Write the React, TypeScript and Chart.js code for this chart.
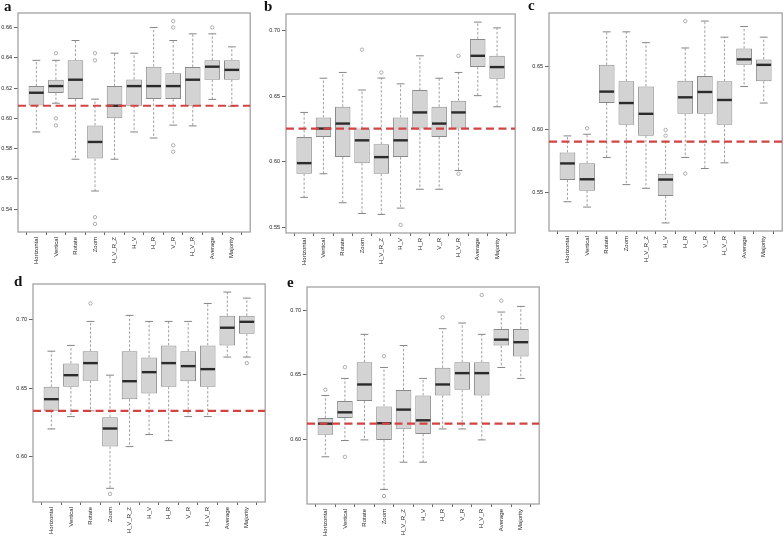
import React, { useEffect, useRef } from "react";
import { Chart, registerables } from "chart.js";

Chart.register(...registerables);

// ---------------- DATA ----------------
const CATEGORIES = ["Horizontal", "Vertical", "Rotate", "Zoom", "H_V_R_Z", "H_V", "H_R", "V_R", "H_V_R", "Average", "Majority"];

// Panel a
const A_LOW = [0.591, 0.610, 0.573, 0.552, 0.573, 0.591, 0.587, 0.5955, 0.595, 0.6125, 0.608];
const A_Q1 = [0.6085, 0.6167, 0.6127, 0.5734, 0.600, 0.6083, 0.6127, 0.6127, 0.6083, 0.6255, 0.6255];
const A_MED = [0.6169, 0.6213, 0.6255, 0.5844, 0.6083, 0.6213, 0.6213, 0.6213, 0.6255, 0.6341, 0.632];
const A_Q3 = [0.6213, 0.6255, 0.6383, 0.5953, 0.6213, 0.6257, 0.6341, 0.6297, 0.6339, 0.6383, 0.6383];
const A_HIGH = [0.6383, 0.6383, 0.6514, 0.6127, 0.643, 0.643, 0.66, 0.6514, 0.6558, 0.6558, 0.6472];
const A_OUT = [[], [0.643, 0.600, 0.5953], [], [0.643, 0.6383, 0.5347, 0.5303], [], [], [], [0.6642, 0.66, 0.5822, 0.578], [], [0.66], []];
const A_REF = 0.6083;
const A_TICKS = [0.54, 0.56, 0.58, 0.60, 0.62, 0.64, 0.66];

// Panel b
const B_LOW = [0.573, 0.591, 0.5689, 0.5607, 0.560, 0.5648, 0.5792, 0.5792, 0.5935, 0.6506, 0.6421];
const B_Q1 = [0.591, 0.6191, 0.6037, 0.5991, 0.591, 0.6037, 0.6255, 0.6191, 0.6255, 0.6724, 0.6634];
const B_MED = [0.5991, 0.6255, 0.6293, 0.6165, 0.6037, 0.6165, 0.6378, 0.6293, 0.6378, 0.681, 0.6724];
const B_Q3 = [0.6191, 0.634, 0.6421, 0.6255, 0.6135, 0.634, 0.6549, 0.6421, 0.6468, 0.6939, 0.681];
const B_HIGH = [0.6378, 0.6639, 0.6683, 0.6549, 0.664, 0.6596, 0.681, 0.6639, 0.6683, 0.7067, 0.7023];
const B_OUT = [[], [], [], [0.6857], [0.6683], [0.552], [], [], [0.681, 0.591], [], []];
const B_REF = 0.6255;
const B_TICKS = [0.55, 0.60, 0.65, 0.70];

// Panel c
const C_LOW = [0.5431, 0.5389, 0.578, 0.5566, 0.5537, 0.5264, 0.578, 0.5693, 0.5738, 0.6339, 0.6209];
const C_Q1 = [0.5603, 0.5518, 0.6209, 0.6037, 0.5952, 0.5476, 0.6124, 0.6124, 0.6037, 0.651, 0.6381];
const C_MED = [0.5733, 0.5608, 0.6299, 0.6209, 0.6124, 0.5606, 0.6254, 0.6296, 0.6233, 0.6553, 0.651];
const C_Q3 = [0.582, 0.5735, 0.651, 0.6381, 0.6339, 0.5651, 0.6384, 0.6423, 0.6381, 0.6638, 0.6553];
const C_HIGH = [0.595, 0.5963, 0.677, 0.677, 0.6685, 0.5905, 0.6643, 0.6855, 0.6728, 0.6812, 0.6728];
const C_OUT = [[], [0.601], [], [], [], [0.5997, 0.5952], [0.6855, 0.5653], [], [], [], []];
const C_REF = 0.5905;
const C_TICKS = [0.55, 0.60, 0.65];

// Panel d
const D_LOW = [0.6204, 0.6294, 0.6336, 0.5771, 0.6075, 0.6163, 0.6119, 0.6294, 0.6294, 0.6728, 0.6728];
const D_Q1 = [0.6336, 0.6511, 0.6555, 0.6075, 0.6421, 0.6462, 0.6511, 0.6552, 0.6511, 0.6813, 0.6898];
const D_MED = [0.6421, 0.6596, 0.6684, 0.6207, 0.6552, 0.6618, 0.6684, 0.6662, 0.664, 0.6942, 0.6985];
const D_Q3 = [0.6511, 0.6681, 0.6771, 0.629, 0.6771, 0.6725, 0.6813, 0.6771, 0.6813, 0.7029, 0.7029];
const D_HIGH = [0.6771, 0.6813, 0.6988, 0.6596, 0.7032, 0.6988, 0.6988, 0.6988, 0.7119, 0.7202, 0.7158];
const D_OUT = [[], [], [0.7119], [0.573], [], [], [], [], [], [], [0.6684]];
const D_REF = 0.6336;
const D_TICKS = [0.60, 0.65, 0.70];

// Panel e
const E_LOW = [0.5864, 0.599, 0.5995, 0.5611, 0.5822, 0.5822, 0.608, 0.608, 0.5995, 0.6557, 0.6472];
const E_Q1 = [0.6034, 0.6165, 0.6296, 0.5995, 0.6077, 0.6041, 0.634, 0.6384, 0.634, 0.6727, 0.6642];
const E_MED = [0.6121, 0.6209, 0.6425, 0.6124, 0.623, 0.6147, 0.6425, 0.6513, 0.6513, 0.6773, 0.6753];
const E_Q3 = [0.6165, 0.6296, 0.6598, 0.6255, 0.6382, 0.634, 0.6554, 0.6598, 0.6598, 0.6856, 0.6856];
const E_HIGH = [0.634, 0.6472, 0.6814, 0.6557, 0.6727, 0.6472, 0.6858, 0.6902, 0.6814, 0.6987, 0.7031];
const E_OUT = [[0.6384], [0.6559, 0.5864], [], [0.6644, 0.556], [], [], [0.6946], [], [0.7119], [0.7075], []];
const E_REF = 0.6121;
const E_TICKS = [0.60, 0.65, 0.70];

// ---------------- LAYOUT ----------------
type Frame = { l: number; t: number; r: number; b: number };
type PanelDef = {
  letter: string;
  low: number[]; q1: number[]; med: number[]; q3: number[]; high: number[];
  out: number[][]; ref: number; ticks: number[];
  frame: Frame; lx: number; lbase: number;
};

const PANELS: PanelDef[] = [
  { letter: "a", low: A_LOW, q1: A_Q1, med: A_MED, q3: A_Q3, high: A_HIGH, out: A_OUT, ref: A_REF, ticks: A_TICKS, frame: { l: 18, t: 13, r: 251, b: 232 }, lx: 4, lbase: 12 },
  { letter: "b", low: B_LOW, q1: B_Q1, med: B_MED, q3: B_Q3, high: B_HIGH, out: B_OUT, ref: B_REF, ticks: B_TICKS, frame: { l: 286, t: 14, r: 516, b: 233 }, lx: 264, lbase: 12 },
  { letter: "c", low: C_LOW, q1: C_Q1, med: C_MED, q3: C_Q3, high: C_HIGH, out: C_OUT, ref: C_REF, ticks: C_TICKS, frame: { l: 549, t: 13, r: 783, b: 231 }, lx: 528, lbase: 11 },
  { letter: "d", low: D_LOW, q1: D_Q1, med: D_MED, q3: D_Q3, high: D_HIGH, out: D_OUT, ref: D_REF, ticks: D_TICKS, frame: { l: 33, t: 284, r: 266, b: 502 }, lx: 14, lbase: 287 },
  { letter: "e", low: E_LOW, q1: E_Q1, med: E_MED, q3: E_Q3, high: E_HIGH, out: E_OUT, ref: E_REF, ticks: E_TICKS, frame: { l: 307, t: 287, r: 540, b: 504 }, lx: 287, lbase: 288 },
];

const Y_AXIS_W = 30;
const PAD_T = 8;
const PAD_R = 4;
const X_AXIS_H = 44;

const FONT = "'Liberation Sans', Arial, Helvetica, sans-serif";

const boxPlugin = {
  id: "boxExtras",
  beforeDatasetsDraw(chart: any) {
    const { ctx, chartArea } = chart;
    ctx.save();
    ctx.strokeStyle = "#a3a3a3";
    ctx.lineWidth = 1.3;
    ctx.strokeRect(chartArea.left, chartArea.top, chartArea.right - chartArea.left, chartArea.bottom - chartArea.top);
    ctx.restore();
  },
  afterDatasetDraw(chart: any, args: any) {
    if (args.meta.type !== "bar") return;
    const p = chart.options.plugins.boxExtras;
    const xs = chart.scales.x;
    const ys = chart.scales.y;
    const { ctx } = chart;
    ctx.save();
    args.meta.data.forEach((el: any, i: number) => {
      const cx = xs.getPixelForValue(i + 1);
      const w = el.width;
      const yQ1 = ys.getPixelForValue(p.q1[i]);
      const yQ3 = ys.getPixelForValue(p.q3[i]);
      const yLo = ys.getPixelForValue(p.low[i]);
      const yHi = ys.getPixelForValue(p.high[i]);
      const yMed = ys.getPixelForValue(p.med[i]);
      // whiskers
      ctx.strokeStyle = "#a0a0a0";
      ctx.lineWidth = 1;
      ctx.setLineDash([2.5, 1.8]);
      ctx.beginPath();
      ctx.moveTo(cx, yQ3);
      ctx.lineTo(cx, yHi);
      ctx.moveTo(cx, yQ1);
      ctx.lineTo(cx, yLo);
      ctx.stroke();
      // caps
      ctx.setLineDash([]);
      ctx.strokeStyle = "#858585";
      ctx.beginPath();
      ctx.moveTo(cx - w / 4, yHi);
      ctx.lineTo(cx + w / 4, yHi);
      ctx.moveTo(cx - w / 4, yLo);
      ctx.lineTo(cx + w / 4, yLo);
      ctx.stroke();
      // median
      ctx.strokeStyle = "#2b2b2b";
      ctx.lineWidth = 2.4;
      ctx.beginPath();
      ctx.moveTo(cx - w / 2 + 0.5, yMed);
      ctx.lineTo(cx + w / 2 - 0.5, yMed);
      ctx.stroke();
    });
    ctx.restore();
  },
};

function BoxPanel({ def }: { def: PanelDef }) {
  const ref = useRef<HTMLCanvasElement | null>(null);
  const f = def.frame;
  const width = Y_AXIS_W + (f.r - f.l) + PAD_R;
  const height = PAD_T + (f.b - f.t) + X_AXIS_H;

  useEffect(() => {
    if (!ref.current) return;
    const n = CATEGORIES.length;
    const xMin = 0.5 - 0.04 * n;
    const xMax = n + 0.5 + 0.04 * n;
    const all: number[] = [...def.low, ...def.high, ...def.out.flat()];
    const dMin = Math.min(...all);
    const dMax = Math.max(...all);
    const span = dMax - dMin;
    const yMin = dMin - 0.04 * span;
    const yMax = dMax + 0.04 * span;

    const boxData = CATEGORIES.map((_, i) => ({ x: i + 1, y: [def.q1[i], def.q3[i]] }));
    const outData: { x: number; y: number }[] = [];
    def.out.forEach((arr, i) => arr.forEach((v) => outData.push({ x: i + 1, y: v })));

    const chart = new Chart(ref.current, {
      type: "bar",
      data: {
        datasets: [
          {
            type: "bar",
            data: boxData as any,
            backgroundColor: "#d3d3d3",
            borderColor: "#8a8a8a",
            borderWidth: 1,
            borderSkipped: false,
            barPercentage: 0.8,
            categoryPercentage: 1,
            order: 3,
          } as any,
          {
            type: "scatter",
            data: outData,
            pointStyle: "circle",
            pointRadius: 1.7,
            pointBorderWidth: 0.8,
            pointBorderColor: "#9a9a9a",
            pointBackgroundColor: "rgba(0,0,0,0)",
            order: 2,
          } as any,
          {
            type: "line",
            data: [{ x: xMin, y: def.ref }, { x: xMax, y: def.ref }],
            borderColor: "#d24444",
            borderWidth: 2.2,
            borderDash: [8, 4.5],
            pointRadius: 0,
            fill: false,
            order: 1,
          } as any,
        ],
      },
      options: {
        animation: false,
        responsive: false,
        devicePixelRatio: 1,
        events: [],
        layout: { padding: { left: 0, top: PAD_T, right: PAD_R, bottom: 0 } },
        plugins: {
          legend: { display: false },
          tooltip: { enabled: false },
          boxExtras: { q1: def.q1, q3: def.q3, low: def.low, high: def.high, med: def.med },
        } as any,
        scales: {
          x: {
            type: "linear",
            min: xMin,
            max: xMax,
            offset: false,
            afterBuildTicks: (s: any) => {
              s.ticks = CATEGORIES.map((_, i) => ({ value: i + 1 }));
            },
            afterFit: (s: any) => {
              s.height = X_AXIS_H;
            },
            grid: { display: true, drawOnChartArea: false, drawTicks: true, tickLength: 3, color: "#666", lineWidth: 1 },
            border: { display: false },
            ticks: {
              autoSkip: false,
              minRotation: 90,
              maxRotation: 90,
              padding: 2,
              color: "#222",
              font: { family: FONT, size: 6 },
              callback: (v: any) => CATEGORIES[Math.round(Number(v)) - 1] ?? "",
            },
          },
          y: {
            type: "linear",
            min: yMin,
            max: yMax,
            afterBuildTicks: (s: any) => {
              s.ticks = def.ticks.map((v) => ({ value: v }));
            },
            afterFit: (s: any) => {
              s.width = Y_AXIS_W;
            },
            grid: { display: true, drawOnChartArea: false, drawTicks: true, tickLength: 4, color: "#666", lineWidth: 1 },
            border: { display: false },
            ticks: {
              padding: 2,
              color: "#222",
              font: { family: FONT, size: 5.5 },
              callback: (v: any) => Number(v).toFixed(2),
            },
          },
        },
      } as any,
      plugins: [boxPlugin as any],
    });
    return () => chart.destroy();
  }, [def]);

  return (
    <>
      <canvas
        ref={ref}
        width={width}
        height={height}
        style={{ position: "absolute", left: f.l - Y_AXIS_W, top: f.t - PAD_T, width, height }}
      />
      <div
        style={{
          position: "absolute",
          left: def.lx,
          top: def.lbase - 12.6,
          fontFamily: "'Liberation Serif', 'Times New Roman', serif",
          fontWeight: "bold",
          fontSize: 15,
          lineHeight: "15px",
          color: "#111",
        }}
      >
        {def.letter}
      </div>
    </>
  );
}

export default function App() {
  return (
    <div
      style={{
        position: "fixed",
        left: 0,
        top: 0,
        width: 784,
        height: 539,
        overflow: "hidden",
        background: "#ffffff",
      }}
    >
      {PANELS.map((p) => (
        <BoxPanel key={p.letter} def={p} />
      ))}
    </div>
  );
}
